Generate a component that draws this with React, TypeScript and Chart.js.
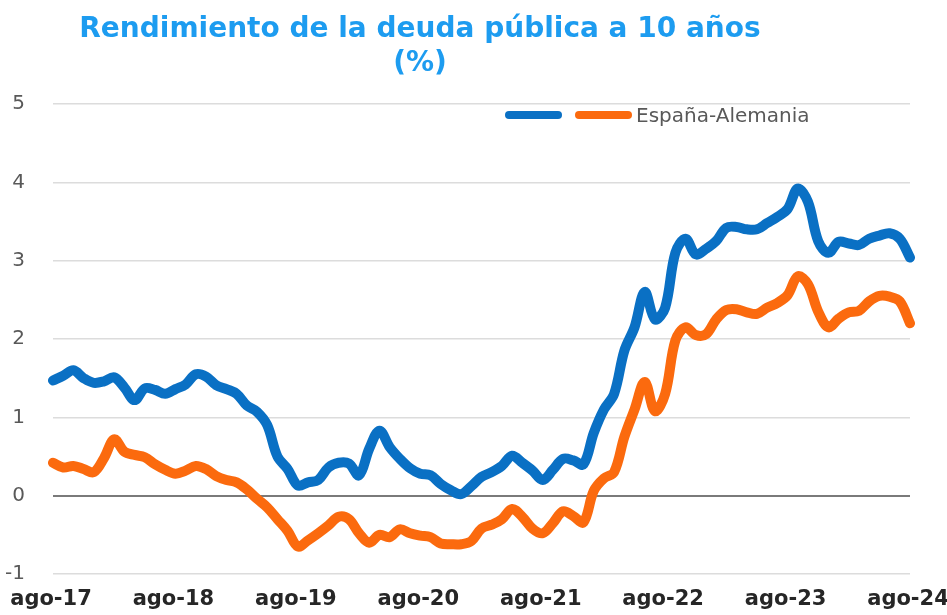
import React, { useEffect, useRef } from "react";
import { Chart, registerables } from "chart.js";

Chart.register(...registerables);

// Monthly categories, Aug 2017 .. Aug 2024
const categories: string[] = [
  "ago-17", "sep-17", "oct-17", "nov-17", "dic-17",
  "ene-18", "feb-18", "mar-18", "abr-18", "may-18", "jun-18", "jul-18", "ago-18", "sep-18", "oct-18", "nov-18", "dic-18",
  "ene-19", "feb-19", "mar-19", "abr-19", "may-19", "jun-19", "jul-19", "ago-19", "sep-19", "oct-19", "nov-19", "dic-19",
  "ene-20", "feb-20", "mar-20", "abr-20", "may-20", "jun-20", "jul-20", "ago-20", "sep-20", "oct-20", "nov-20", "dic-20",
  "ene-21", "feb-21", "mar-21", "abr-21", "may-21", "jun-21", "jul-21", "ago-21", "sep-21", "oct-21", "nov-21", "dic-21",
  "ene-22", "feb-22", "mar-22", "abr-22", "may-22", "jun-22", "jul-22", "ago-22", "sep-22", "oct-22", "nov-22", "dic-22",
  "ene-23", "feb-23", "mar-23", "abr-23", "may-23", "jun-23", "jul-23", "ago-23", "sep-23", "oct-23", "nov-23", "dic-23",
  "ene-24", "feb-24", "mar-24", "abr-24", "may-24", "jun-24", "jul-24", "ago-24",
];

const tickLabels: string[] = ["ago-17", "ago-18", "ago-19", "ago-20", "ago-21", "ago-22", "ago-23", "ago-24"];

// Spain 10Y yield (%)
const spain: number[] = [
  1.47, 1.53, 1.6, 1.5, 1.44,
  1.46, 1.51, 1.38, 1.22, 1.37, 1.35, 1.3, 1.36, 1.42, 1.55, 1.52, 1.41,
  1.36, 1.3, 1.15, 1.07, 0.9, 0.5, 0.34, 0.13, 0.17, 0.2, 0.36, 0.42,
  0.41, 0.26, 0.6, 0.83, 0.62, 0.47, 0.35, 0.28, 0.26, 0.15, 0.07, 0.02,
  0.12, 0.24, 0.3, 0.38, 0.51, 0.42, 0.32, 0.2, 0.33, 0.47, 0.45, 0.4,
  0.8, 1.1, 1.3, 1.85, 2.15, 2.6, 2.25, 2.4, 3.1, 3.28, 3.08, 3.15,
  3.25, 3.42, 3.43, 3.4, 3.4, 3.48, 3.56, 3.66, 3.92, 3.75, 3.25, 3.1,
  3.24, 3.22, 3.2, 3.28, 3.32, 3.35, 3.28, 3.04,
];

// Spain - Germany spread (pp)
const spread: number[] = [
  0.42, 0.36, 0.38, 0.34, 0.3,
  0.48, 0.72, 0.56, 0.52, 0.49, 0.4, 0.33, 0.28, 0.32, 0.38, 0.34, 0.25,
  0.2, 0.17, 0.08, -0.04, -0.15, -0.3, -0.45, -0.65, -0.57, -0.48, -0.38, -0.27,
  -0.3, -0.48, -0.6, -0.5, -0.53, -0.43, -0.48, -0.51, -0.53, -0.61, -0.62, -0.62,
  -0.58, -0.42, -0.37, -0.3, -0.17, -0.27, -0.42, -0.48, -0.35, -0.2, -0.26, -0.34,
  0.06, 0.22, 0.3, 0.75, 1.1, 1.45, 1.08, 1.3, 1.98, 2.15, 2.05, 2.06,
  2.25, 2.37, 2.38, 2.34, 2.32, 2.4, 2.46, 2.56, 2.8, 2.7, 2.35, 2.15,
  2.26, 2.34, 2.36, 2.48, 2.55, 2.54, 2.48, 2.2,
];

const BLUE = "#0a70c4";
const ORANGE = "#fb6a0e";

export default function App() {
  const ref = useRef<HTMLCanvasElement>(null);

  useEffect(() => {
    document.body.style.margin = "0";
    const chart = new Chart(ref.current as HTMLCanvasElement, {
      type: "line",
      data: {
        labels: categories,
        datasets: [
          {
            label: "España",
            data: spain,
            borderColor: BLUE,
            backgroundColor: BLUE,
            borderWidth: 10,
            pointRadius: 0,
            tension: 0.35,
            borderCapStyle: "round",
            borderJoinStyle: "round",
            fill: false,
          },
          {
            label: "España-Alemania",
            data: spread,
            borderColor: ORANGE,
            backgroundColor: ORANGE,
            borderWidth: 10,
            pointRadius: 0,
            tension: 0.35,
            borderCapStyle: "round",
            borderJoinStyle: "round",
            fill: false,
          },
        ],
      },
      options: {
        animation: false,
        responsive: false,
        maintainAspectRatio: false,
        layout: { padding: { top: 104, right: 0, bottom: 4, left: 0 } },
        plugins: {
          legend: { display: false },
          title: { display: false },
          tooltip: { enabled: false },
        },
        scales: {
          x: {
            grid: { display: false },
            border: { display: false },
            afterFit: (s: any) => {
              s.height = 37;
              s.paddingRight = 37;
            },
            ticks: {
              autoSkip: false,
              maxRotation: 0,
              minRotation: 0,
              padding: 5,
              labelOffset: -2,
              color: "#262626",
              font: { family: "DejaVu Sans", size: 21, weight: "bold" },
              callback: function (_v: any, i: number) {
                const l = categories[i];
                return tickLabels.includes(l) ? l : "";
              },
            },
          },
          y: {
            min: -1,
            max: 5,
            afterFit: (s: any) => {
              s.width = 53;
            },
            grid: {
              drawTicks: false,
              color: (ctx: any) => (ctx.tick && ctx.tick.value === 0 ? "#7a7a7a" : "#dcdcdc"),
              lineWidth: (ctx: any) => (ctx.tick && ctx.tick.value === 0 ? 2 : 1.5),
            },
            border: { display: false },
            ticks: {
              stepSize: 1,
              padding: 28,
              color: "#595959",
              font: { family: "DejaVu Sans", size: 20 },
            },
          },
        },
      },
    });
    return () => chart.destroy();
  }, []);

  return (
    <div style={{ position: "relative", width: 947, height: 615, background: "#fff", overflow: "hidden" }}>
      <canvas ref={ref} width={947} height={615} style={{ display: "block" }} />
      <div
        style={{
          position: "absolute",
          top: 11,
          left: 0,
          width: 840,
          textAlign: "center",
          fontFamily: "DejaVu Sans",
          fontWeight: "bold",
          fontSize: 28,
          lineHeight: "34px",
          color: "#1d9cf0",
        }}
      >
        <div>Rendimiento de la deuda pública a 10 años</div>
        <div>(%)</div>
      </div>
      <div style={{ position: "absolute", left: 505, top: 111, width: 57, height: 8, borderRadius: 4, background: BLUE }} />
      <div style={{ position: "absolute", left: 575, top: 111, width: 57, height: 8, borderRadius: 4, background: ORANGE }} />
      <div
        style={{
          position: "absolute",
          left: 636,
          top: 102,
          fontFamily: "DejaVu Sans",
          fontSize: 20,
          lineHeight: "26px",
          color: "#595959",
          whiteSpace: "nowrap",
        }}
      >
        España-Alemania
      </div>
    </div>
  );
}
